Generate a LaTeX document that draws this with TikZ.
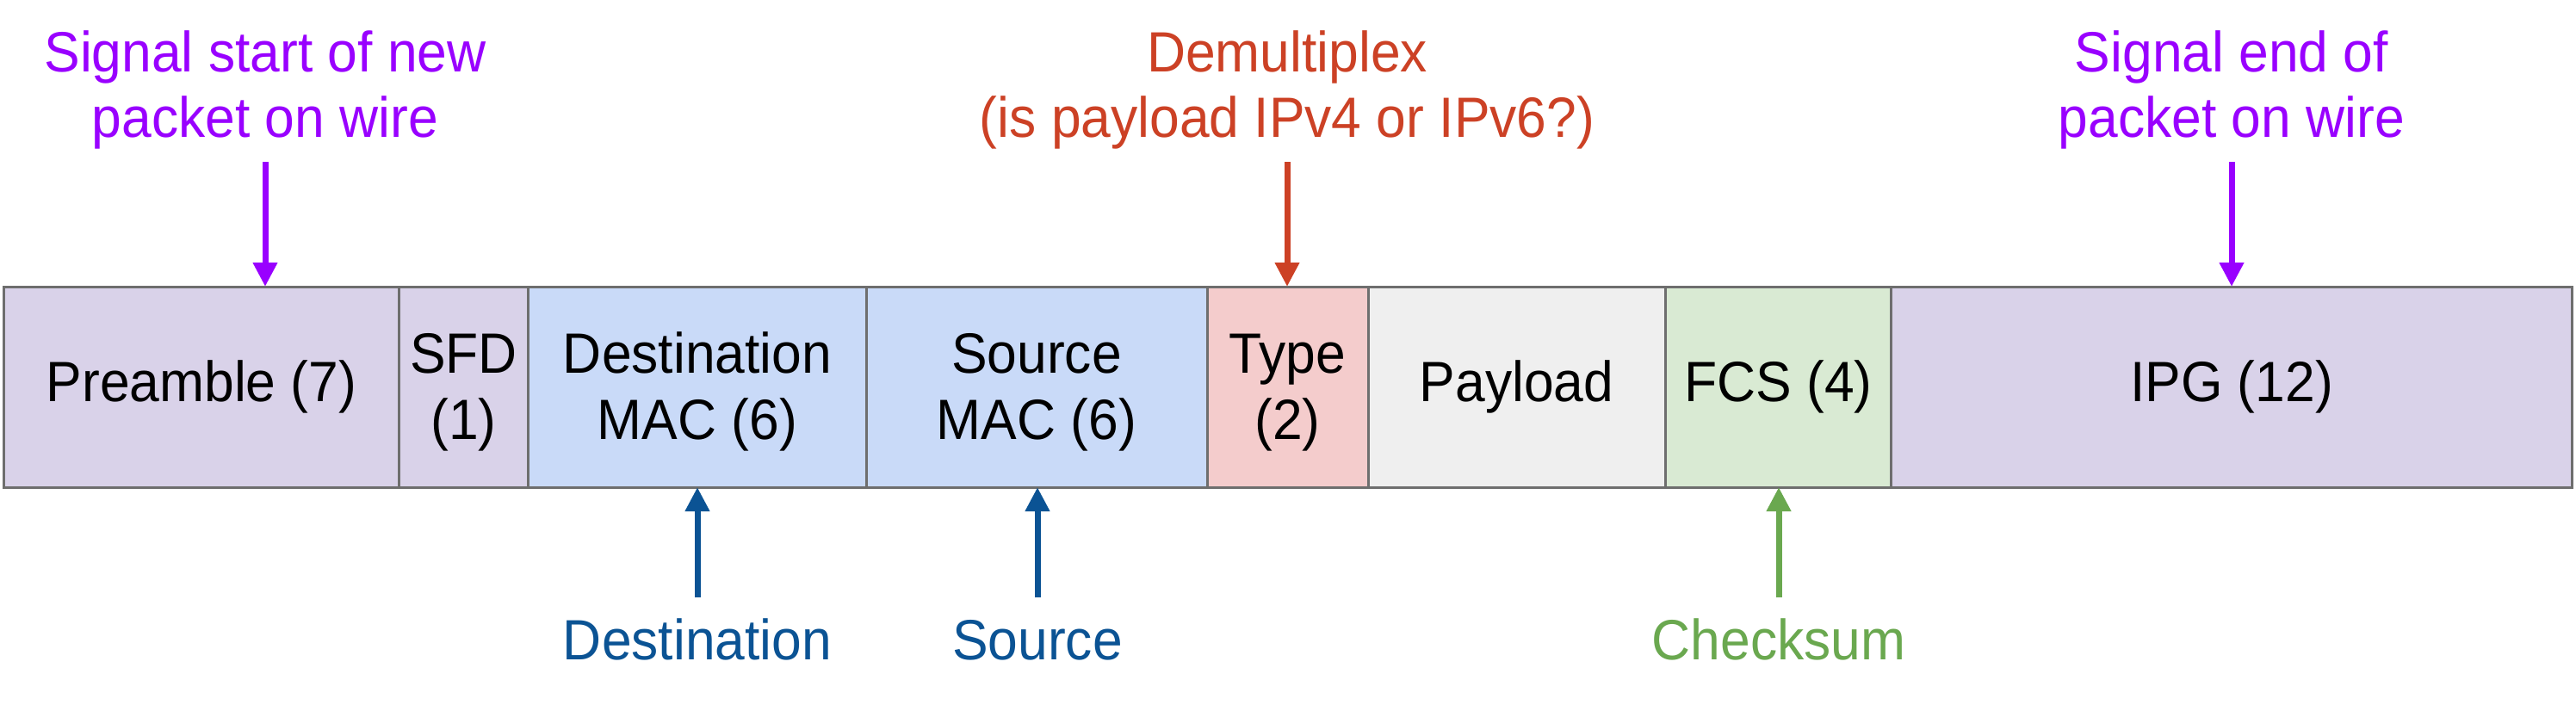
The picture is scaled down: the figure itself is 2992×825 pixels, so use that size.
\documentclass[tikz,border=0pt]{standalone}
\usepackage{fontspec}
\setmainfont{Liberation Sans}[FakeStretch=0.945]
\usetikzlibrary{arrows.meta}
\definecolor{cpurple}{HTML}{9900FF}
\definecolor{cred}{HTML}{CC4125}
\definecolor{cblue}{HTML}{0B5394}
\definecolor{cgreen}{HTML}{6AA84F}
\definecolor{fpurple}{HTML}{D9D2E9}
\definecolor{fblue}{HTML}{C9DAF8}
\definecolor{fred}{HTML}{F4CCCC}
\definecolor{fgray}{HTML}{EFEFEF}
\definecolor{fgreen}{HTML}{D9EAD3}
\definecolor{border}{HTML}{6E6E6E}
\begin{document}
\begin{tikzpicture}[x=1pt,y=-1pt,
  fieldbox/.style={draw=border, line width=3pt, rectangle, inner sep=0pt, outer sep=0pt,
    minimum height=233pt, align=center, text=black,
    font=\fontsize{66}{77}\selectfont},
  fieldtxt/.style={yshift=-5.5pt},
  lbl/.style={anchor=base, inner sep=0pt, font=\fontsize{66}{77}\selectfont},
  arr/.style={line width=7pt, -{Triangle[length=28pt,width=27pt]}}
]
\useasboundingbox (0,0) rectangle (2992,825);
\fill[white] (0,0) rectangle (2992,825);

% fields
\node[fieldbox, fill=fpurple, minimum width=459pt]   (pre) at (234,449.5) {\raisebox{-5.5pt}{Preamble (7)}};
\node[fieldbox, fill=fpurple, minimum width=150pt]   (sfd) at (538.5,449.5) {};
\node[fieldbox, fill=fblue,   minimum width=392.5pt] (dst) at (810,449.5) {};
\node[fieldbox, fill=fblue,   minimum width=396pt]   (src) at (1204,449.5) {};
\node[fieldbox, fill=fred,    minimum width=187pt]   (typ) at (1495.5,449.5) {};
\node[fieldbox, fill=fgray,   minimum width=345pt]   (pay) at (1761.5,449.5) {\raisebox{-5.5pt}{Payload}};
\node[fieldbox, fill=fgreen,  minimum width=263pt]   (fcs) at (2065.5,449.5) {\raisebox{-5.5pt}{FCS (4)}};
\node[fieldbox, fill=fpurple, minimum width=790.5pt] (ipg) at (2592,449.5) {\raisebox{-5.5pt}{IPG (12)}};

% two-line field texts
\node[lbl] (sfd1) at (538.5,433) {SFD};
\node[lbl] (sfd2) at (538.5,510) {(1)};
\node[lbl] (dst1) at (810,433) {Destination};
\node[lbl] (dst2) at (810,510) {MAC (6)};
\node[lbl] (src1) at (1204,433) {Source};
\node[lbl] (src2) at (1204,510) {MAC (6)};
\node[lbl] (typ1) at (1495.5,433) {Type};
\node[lbl] (typ2) at (1495.5,510) {(2)};

% top labels
\node[lbl, text=cpurple] (st1) at (308,83)  {Signal start of new};
\node[lbl, text=cpurple] (st2) at (308,159) {packet on wire};
\node[lbl, text=cred]    (dm1) at (1495,83) {Demultiplex};
\node[lbl, text=cred]    (dm2) at (1495,159) {(is payload IPv4 or IPv6?)};
\node[lbl, text=cpurple] (en1) at (2592,83) {Signal end of};
\node[lbl, text=cpurple] (en2) at (2592,159) {packet on wire};

% bottom labels
\node[lbl, text=cblue]  (dl) at (810,766)  {Destination};
\node[lbl, text=cblue]  (sl) at (1205,766) {Source};
\node[lbl, text=cgreen] (cl) at (2066,766) {Checksum};

% arrow tails
\coordinate (t1) at (308,188);
\coordinate (t2) at (1495,188);
\coordinate (t3) at (2592,188);
\coordinate (b1) at (810,694);
\coordinate (b2) at (1205,694);
\coordinate (b3) at (2066,694);

\draw[arr, cpurple] (t1) -- (t1 |- pre.north);
\draw[arr, cred]    (t2) -- (t2 |- typ.north);
\draw[arr, cpurple] (t3) -- (t3 |- ipg.north);
\draw[arr, cblue]   (b1) -- (b1 |- dst.south);
\draw[arr, cblue]   (b2) -- (b2 |- src.south);
\draw[arr, cgreen]  (b3) -- (b3 |- fcs.south);
\end{tikzpicture}
\end{document}
